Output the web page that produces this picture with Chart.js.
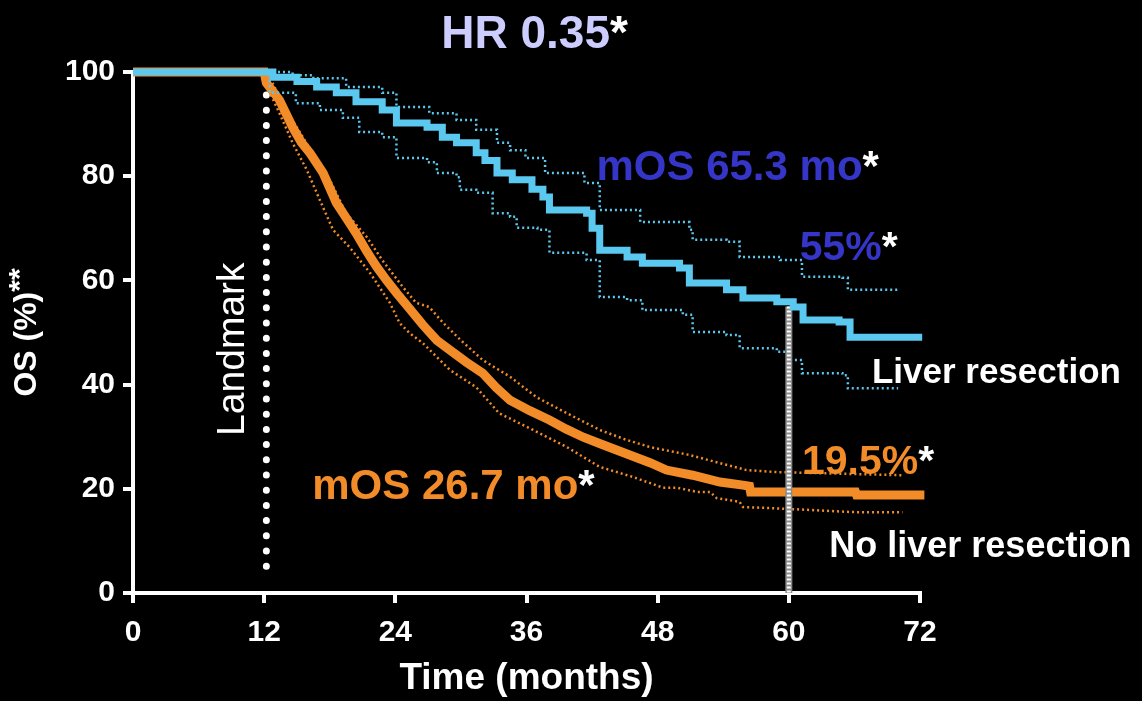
<!DOCTYPE html>
<html>
<head>
<meta charset="utf-8">
<script src="https://cdn.jsdelivr.net/npm/chart.js@4.4.1/dist/chart.umd.min.js"></script>
<style>
  html, body { margin: 0; padding: 0; background: #000; }
  canvas { display: block; background: #000; }
</style>
</head>
<body>
<canvas id="km" width="1142" height="701"></canvas>
<script>
// Kaplan-Meier OS, landmark at 12 months
const xTicks = [0, 12, 24, 36, 48, 60, 72];
const yTicks = [0, 20, 40, 60, 80, 100];

// liver resection: [months, OS %]
const resectT  = [0, 12.8, 15.0, 16.8, 18.6, 20.4, 22.8, 24.1, 26.9, 28.3, 29.6, 31.4, 32.2, 33.3, 34.7, 36.5, 37.5, 38.1, 41.5, 42.0, 42.7, 45.2, 46.6, 50.0, 50.9, 54.3, 55.8, 58.9, 60.4, 61.3, 64.6, 65.6, 72.2];
const resectOS = [100, 99.0, 98.2, 97.1, 96.0, 94.3, 92.7, 90.2, 89.4, 87.5, 86.4, 84.5, 83.0, 80.6, 79.3, 77.5, 76.0, 73.5, 72.9, 70.0, 65.8, 64.5, 63.3, 62.4, 59.5, 58.2, 56.6, 55.9, 54.9, 52.4, 52.0, 49.1, 49.1];
const resectHiT  = [0, 12.5, 14.6, 16.5, 19.5, 22.8, 24.1, 27.1, 29.6, 31.4, 33.3, 34.5, 35.9, 37.7, 41.3, 42.7, 46.4, 50.9, 51.2, 54.3, 55.5, 59.2, 61.2, 64.9, 65.4, 70.0];
const resectHi   = [100, 100, 99.4, 98.8, 97.1, 96.0, 93.3, 92.1, 90.8, 88.9, 86.4, 85.0, 83.5, 80.6, 78.7, 73.5, 71.2, 69.7, 67.8, 67.4, 64.5, 63.9, 60.7, 60.5, 58.2, 58.2];
const resectLoT  = [0, 12.5, 14.9, 17.1, 19.2, 20.7, 22.8, 24.1, 26.9, 27.8, 29.6, 29.9, 31.4, 32.9, 34.5, 35.1, 37.0, 38.1, 41.5, 42.7, 45.2, 46.6, 50.3, 51.2, 54.3, 55.5, 58.9, 60.1, 61.2, 64.9, 65.4, 70.0];
const resectLo   = [100, 96.0, 94.0, 92.7, 91.2, 88.5, 87.5, 83.5, 82.7, 80.6, 79.8, 77.4, 76.8, 72.9, 72.2, 70.1, 69.7, 65.3, 63.9, 56.8, 56.2, 54.3, 53.4, 50.1, 49.5, 47.0, 46.3, 44.7, 42.2, 41.8, 39.3, 39.3];

// no liver resection
const noResT  = [0, 12.0, 12.2, 13.4, 14.6, 15.4, 16.2, 17.4, 18.6, 19.5, 20.4, 21.4, 22.3, 23.2, 24.1, 25.3, 26.5, 27.8, 29.0, 30.5, 32.0, 33.2, 34.5, 36.3, 38.1, 39.6, 41.2, 42.8, 44.3, 45.8, 47.3, 48.8, 51.2, 53.7, 55.8, 56.4, 56.5, 66.1, 66.2, 72.4];
const noResOS = [100, 100, 97.9, 94.6, 89.4, 86.5, 84.4, 80.6, 74.9, 72.0, 69.1, 65.5, 62.6, 60.0, 57.6, 54.6, 51.5, 48.5, 46.6, 44.3, 42.2, 39.5, 37.0, 35.0, 33.2, 31.5, 29.9, 28.6, 27.4, 26.2, 25.0, 23.6, 22.6, 21.3, 20.7, 20.5, 19.4, 19.4, 18.8, 18.8];
const noResHiT = [0, 12.0, 12.5, 14.0, 15.3, 16.8, 18.0, 19.5, 21.4, 22.8, 24.7, 25.9, 27.1, 28.4, 30.0, 32.0, 34.5, 36.9, 39.7, 42.7, 45.0, 47.3, 50.9, 53.4, 56.1, 58.9, 70.4];
const noResHi  = [100, 100, 99.0, 92.7, 88.3, 83.1, 79.3, 72.9, 68.3, 63.9, 58.7, 55.7, 54.9, 51.8, 48.5, 44.7, 41.5, 37.6, 34.5, 31.3, 29.5, 28.0, 26.5, 25.1, 23.6, 23.2, 22.6];
const noResLoT = [0, 12.0, 12.3, 13.4, 14.6, 15.9, 17.1, 18.3, 19.8, 21.7, 23.5, 24.4, 25.3, 26.5, 29.0, 31.4, 33.5, 36.6, 39.7, 42.7, 45.7, 48.5, 49.8, 51.6, 52.8, 53.4, 55.5, 55.8, 58.3, 66.2, 70.4];
const noResLo  = [100, 100, 97.0, 92.1, 86.4, 81.2, 75.4, 69.7, 66.4, 61.4, 55.7, 51.8, 49.9, 48.0, 42.8, 39.5, 34.5, 31.3, 28.0, 24.2, 22.3, 20.2, 20.2, 19.4, 19.4, 18.2, 17.5, 16.5, 16.3, 15.5, 15.5];

// reference lines
const landmarkT = [12.2, 12.2];
const landmarkY = [98.5, 3.0];
const fiveYearT = [60, 60];
const fiveYearY = [55, 0];

const BLUE = "#5ac8ef";
const ORANGE = "#f28c28";
const FONT = "'Liberation Sans', Arial, sans-serif";

function pts(xs, ys) {
  return xs.map((x, i) => ({ x: x, y: ys[i] }));
}

function line(xs, ys, color, width, extra) {
  return Object.assign({
    data: pts(xs, ys),
    borderColor: color,
    borderWidth: width,
    pointRadius: 0,
    fill: false,
    clip: false,
    tension: 0
  }, extra || {});
}

const dotted = { borderDash: [2, 3] };

// text drawn on top, positioned through the scales
const labels = {
  id: "labels",
  afterDraw(chart) {
    const ctx = chart.ctx;
    const sx = chart.scales.x, sy = chart.scales.y;

    function say(text, star, xv, yv, color, size) {
      ctx.save();
      ctx.font = "bold " + size + "px " + FONT;
      ctx.textBaseline = "alphabetic";
      ctx.textAlign = "left";
      const px = sx.getPixelForValue(xv), py = sy.getPixelForValue(yv);
      ctx.fillStyle = color;
      ctx.fillText(text, px, py);
      if (star) {
        ctx.fillStyle = "#fff";
        ctx.fillText("*", px + ctx.measureText(text).width, py);
      }
      ctx.restore();
    }

    say("HR 0.35", true, 28.2, 104.6, "#ccccff", 46);
    say("mOS 65.3 mo", true, 42.4, 79.3, "#3535c8", 42);
    say("55%", true, 61.0, 63.9, "#3535c8", 41);
    say("Liver resection", false, 67.6, 40.3, "#fff", 35);
    say("19.5%", true, 61.2, 22.8, ORANGE, 41);
    say("mOS 26.7 mo", true, 16.4, 18.0, ORANGE, 42);
    say("No liver resection", false, 63.7, 6.9, "#fff", 36);

    // Landmark, rotated
    ctx.save();
    ctx.translate(sx.getPixelForValue(9.2), sy.getPixelForValue(46.8));
    ctx.rotate(-Math.PI / 2);
    ctx.font = "39px " + FONT;
    ctx.fillStyle = "#fff";
    ctx.textAlign = "center";
    ctx.textBaseline = "middle";
    ctx.fillText("Landmark", 0, 0);
    ctx.restore();

    // y axis title with raised **
    ctx.save();
    ctx.translate(27, (chart.chartArea.top + chart.chartArea.bottom) / 2);
    ctx.rotate(-Math.PI / 2);
    ctx.fillStyle = "#fff";
    ctx.textBaseline = "middle";
    ctx.font = "bold 32px " + FONT;
    const w1 = ctx.measureText("OS (%)").width;
    ctx.font = "bold 30px " + FONT;
    const w2 = ctx.measureText("**").width;
    let x0 = -(w1 + w2) / 2;
    ctx.font = "bold 32px " + FONT;
    ctx.textAlign = "left";
    ctx.fillText("OS (%)", x0, 0);
    ctx.font = "bold 30px " + FONT;
    ctx.fillText("**", x0 + w1, -6);
    ctx.restore();
  }
};

new Chart(document.getElementById("km").getContext("2d"), {
  type: "line",
  data: {
    datasets: [
      line(resectT, resectOS, BLUE, 7, { stepped: "before" }),
      line(fiveYearT, fiveYearY, "#ffffff", 4, { borderDash: [2, 2] }),
      line(fiveYearT, fiveYearY, "#8a8a8a", 7),
      line(resectHiT, resectHi, BLUE, 2.5, Object.assign({ stepped: "before" }, dotted)),
      line(resectLoT, resectLo, BLUE, 2.5, Object.assign({ stepped: "before" }, dotted)),
      line(noResHiT, noResHi, ORANGE, 2.5, dotted),
      line(noResLoT, noResLo, ORANGE, 2.5, dotted),
      line(noResT, noResOS, ORANGE, 9),
      line(landmarkT, landmarkY, "#ffffff", 7, { borderDash: [0, 15.2], borderCapStyle: "round" })
    ]
  },
  options: {
    responsive: false,
    animation: false,
    events: [],
    layout: { padding: { top: 72, right: 222, left: 0, bottom: 0 } },
    plugins: { legend: { display: false }, tooltip: { enabled: false } },
    scales: {
      x: {
        type: "linear",
        min: 0, max: 72,
        afterBuildTicks: s => { s.ticks = xTicks.map(v => ({ value: v })); },
        ticks: { color: "#fff", font: { family: FONT, weight: "bold", size: 30 }, padding: 12, maxRotation: 0 },
        grid: { drawOnChartArea: false, color: "#fff", lineWidth: 4, tickLength: 10 },
        border: { color: "#fff", width: 4 },
        title: { display: true, text: "Time (months)", color: "#fff", font: { family: FONT, weight: "bold", size: 37 }, padding: { top: 0, bottom: 0 } },
        afterFit: s => { s.height = 108; }
      },
      y: {
        type: "linear",
        min: 0, max: 100,
        afterBuildTicks: s => { s.ticks = yTicks.map(v => ({ value: v })); },
        ticks: { color: "#fff", font: { family: FONT, weight: "bold", size: 30 }, padding: 8 },
        grid: { drawOnChartArea: false, color: "#fff", lineWidth: 4, tickLength: 10 },
        border: { color: "#fff", width: 4 },
        afterFit: s => { s.width = 133; }
      }
    }
  },
  plugins: [labels]
});
</script>
</body>
</html>
